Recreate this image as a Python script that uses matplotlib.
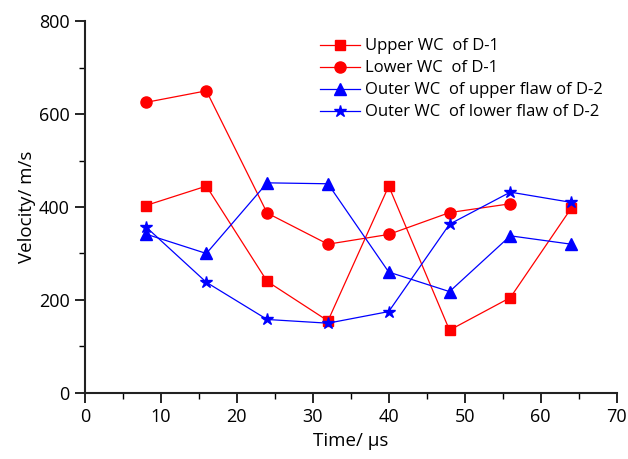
import numpy as np
import matplotlib
matplotlib.use("Agg")
import matplotlib.pyplot as plt
from matplotlib.ticker import MultipleLocator

# time steps (us)
time_us = [8, 16, 24, 32, 40, 48, 56, 64]

# velocities (m/s)
upper_d1 = [403, 445, 240, 155, 445, 135, 205, 397]
lower_d1 = [625, 650, 387, 320, 341, 388, 407]
outer_upper_d2 = [342, 300, 452, 450, 260, 218, 338, 320]
outer_lower_d2 = [358, 238, 158, 150, 175, 363, 432, 410]

labels = ["Upper WC  of D-1", "Lower WC  of D-1",
          "Outer WC  of upper flaw of D-2", "Outer WC  of lower flaw of D-2"]

plt.rcParams['font.family'] = ['Open Sans', 'DejaVu Sans']

fig = plt.figure(figsize=(6.28, 4.59), dpi=100)
ax = fig.add_axes([0.135, 0.144, 0.847, 0.81])

ax.plot(time_us, upper_d1, color='red', marker='s', markersize=7, lw=0.9, label=labels[0])
ax.plot(time_us[:len(lower_d1)], lower_d1, color='red', marker='o', markersize=8, lw=0.9, label=labels[1])
ax.plot(time_us, outer_upper_d2, color='blue', marker='^', markersize=8, lw=0.9, label=labels[2])
ax.plot(time_us, outer_lower_d2, color='blue', marker='*', markersize=9, lw=0.9, label=labels[3])

ax.set_xlim(0, 70)
ax.set_ylim(0, 800)
ax.xaxis.set_major_locator(MultipleLocator(10))
ax.xaxis.set_minor_locator(MultipleLocator(5))
ax.yaxis.set_major_locator(MultipleLocator(200))
ax.yaxis.set_minor_locator(MultipleLocator(100))

for side in ['top', 'right']:
    ax.spines[side].set_visible(False)
for side in ['left', 'bottom']:
    ax.spines[side].set_linewidth(1.5)
    ax.spines[side].set_color('#222222')

ax.tick_params(which='major', direction='out', length=7, width=1.2, labelsize=13, pad=4)
ax.tick_params(which='minor', direction='out', length=4, width=1.0)

ax.set_xlabel("Time/ \u03bcs", fontsize=13.5, labelpad=4)
ax.set_ylabel("Velocity/ m/s", fontsize=13.5, labelpad=2)

ax.legend(loc='upper right', bbox_to_anchor=(0.995, 0.985), frameon=False, fontsize=12,
          handlelength=2.4, handletextpad=0.3, labelspacing=0.36, borderaxespad=0.3)

fig.savefig("out.png", dpi=100)
